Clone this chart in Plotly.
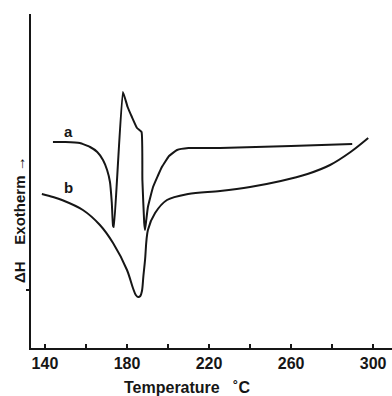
import plotly.graph_objects as go

# Curve a (temperature in °C, heat flow in arbitrary units)
temp_a = [143.9, 150.0, 157.0, 162.0, 165.5, 168.3, 170.3, 171.7, 172.6, 173.2, 173.6,
          178.0, 180.3, 182.4, 184.9, 187.1, 187.5, 188.4, 188.8, 189.4, 190.2, 192.7,
          195.0, 197.0, 200.5, 204.4, 210.0, 225.4, 260.0, 289.8]
heat_a = [206, 206, 205, 201, 196, 188, 178, 166, 145, 122, 121,
          256, 241, 231, 220, 216, 168, 125, 118, 128, 141, 161,
          172, 181, 192, 198, 200, 200, 202, 204]

# Curve b
temp_b = [138.5, 143.9, 148.3, 158.5, 166.8, 173.2, 180.0, 182.9, 184.3, 185.4, 186.5, 187.3,
          188.0, 188.8, 190.2, 193.7, 199.5, 209.8, 225.4, 240.0, 255.0, 268.0, 279.0,
          289.0, 297.6]
heat_b = [154, 151, 148, 138, 123, 105, 78, 60, 53, 51, 52, 57,
          72, 88, 118, 135, 148, 154, 157, 161, 167, 174, 183,
          196, 210]

tick_vals = [140, 160, 180, 200, 220, 240, 260, 280, 300]
tick_text = ["140", "", "180", "", "220", "", "260", "", "300"]

ink = "#161616"
font = dict(family="Liberation Sans", size=15, color=ink, weight="bold")

# pixel geometry of the plot area
L, R, T, B = 31, 392, 14, 348
def px(xpix):
    return (xpix - L) / (R - L)
def py(ypix):
    return (B - ypix) / (B - T)

fig = go.Figure()
fig.add_trace(go.Scatter(x=temp_a, y=heat_a, mode="lines",
                         line=dict(color=ink, width=2, shape="spline", smoothing=0.35),
                         showlegend=False, hoverinfo="skip"))
fig.add_trace(go.Scatter(x=temp_b, y=heat_b, mode="lines",
                         line=dict(color=ink, width=2, shape="spline", smoothing=0.9),
                         showlegend=False, hoverinfo="skip"))

fig.add_annotation(x=px(68), y=py(131), text="a", showarrow=False, xref="paper", yref="paper",
                   font=font, xanchor="center", yanchor="middle")
fig.add_annotation(x=px(68), y=py(187), text="b", showarrow=False, xref="paper", yref="paper",
                   font=font, xanchor="center", yanchor="middle")

fig.add_annotation(x=px(187), y=py(387), xref="paper", yref="paper", yanchor="middle",
                   text="Temperature   ˚C", showarrow=False,
                   font=dict(family="Liberation Sans", size=16, color=ink, weight="bold"))
fig.add_annotation(x=px(19), y=py(220), xref="paper", yref="paper", textangle=-90,
                   xanchor="center", yanchor="middle",
                   text="ΔH    Exotherm →", showarrow=False,
                   font=dict(family="Liberation Sans", size=15, color=ink, weight="bold"))

fig.update_layout(
    width=392, height=396,
    margin=dict(l=L, r=392 - R, t=T, b=396 - B, autoexpand=False),
    paper_bgcolor="white", plot_bgcolor="white",
    xaxis=dict(range=[133.2, 309.2], showgrid=False, zeroline=False, automargin=False,
               showline=True, linecolor=ink, linewidth=1.5,
               tickvals=tick_vals, ticktext=tick_text,
               ticks="inside", ticklen=4, tickcolor=ink, tickwidth=1.5,
               tickfont=dict(family="Liberation Sans", size=16, color=ink, weight="bold")),
    yaxis=dict(range=[0, 334], showgrid=False, zeroline=False, automargin=False,
               showline=True, linecolor=ink, linewidth=1.5,
               tickvals=[58], ticktext=[""], ticks="outside", ticklen=3,
               tickcolor=ink, tickwidth=1.5, showticklabels=False),
)

fig.write_html("out.html", config={"displayModeBar": False},
               post_script="document.body.style.margin='0px';")
